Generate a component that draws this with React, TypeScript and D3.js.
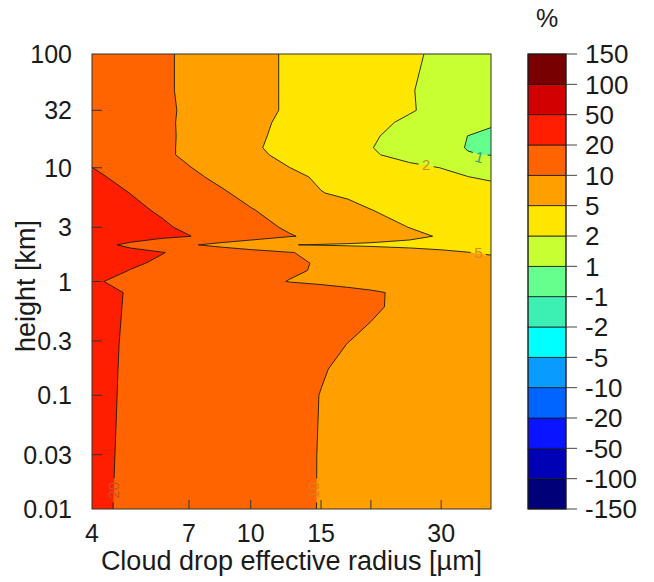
import React from 'react';
import * as d3 from 'd3';

// Cloud drop effective radius [µm] (grid columns)
const radii = [4, 5, 6, 7, 8.5, 10, 12.5, 15, 17.5, 20, 25, 30, 35, 40];
// height [km] (grid rows, bottom to top)
const heights = [0.01, 0.03, 0.1, 0.17, 0.28, 0.6, 0.8, 1, 1.25, 1.45, 1.8, 2.1, 2.5, 3, 4.25, 6, 8.3, 10, 13, 15, 19, 25, 32, 48, 100];
// change [%] for each height row, across radii
const values: number[][] = [
  [23.2, 19.1, 17.6, 16.2, 14.6, 13.2, 11.2, 9.9, 9.4, 9.0, 8.4, 7.9, 7.4, 7.0],
  [23.5, 19.2, 17.6, 16.3, 14.6, 13.2, 11.3, 9.9, 9.4, 9.0, 8.4, 7.9, 7.4, 7.0],
  [23.9, 19.3, 17.8, 16.4, 14.8, 13.4, 11.4, 9.95, 9.5, 9.1, 8.4, 7.9, 7.4, 7.0],
  [23.7, 19.4, 17.9, 16.6, 15.0, 13.7, 11.8, 10.3, 9.6, 9.2, 8.5, 7.9, 7.4, 7.0],
  [23.5, 19.5, 18.1, 16.9, 15.4, 14.2, 12.5, 11.1, 9.97, 9.5, 8.7, 8.0, 7.5, 7.0],
  [23.1, 19.7, 18.5, 17.5, 16.2, 15.2, 13.7, 12.5, 11.5, 10.65, 9.4, 8.45, 7.7, 7.0],
  [23.7, 19.7, 18.5, 17.5, 16.3, 15.2, 13.8, 12.6, 11.6, 10.7, 9.4, 8.5, 7.7, 7.0],
  [22, 18.5, 16.75, 15.3, 13.4, 11.9, 9.9, 9.5, 9.1, 8.75, 8.2, 7.7, 7.35, 7.0],
  [29, 19.8, 18.0, 16.5, 14.6, 13.0, 10.8, 9.7, 9.3, 8.9, 8.3, 7.8, 7.4, 7.0],
  [32, 23, 18.9, 17.2, 15.2, 13.4, 11.1, 9.7, 9.2, 8.8, 8.05, 7.45, 6.95, 6.5],
  [33.5, 26.5, 20.7, 18.2, 15.6, 13.3, 10.3, 9.2, 8.5, 7.8, 6.7, 5.8, 5.07, 4.7],
  [29, 18.4, 14.4, 11.0, 8.7, 7.3, 5.1, 4.85, 4.7, 4.55, 4.3, 4.1, 3.95, 3.8],
  [38, 31, 25.4, 20.6, 17.0, 14.3, 10.5, 9.06, 8.1, 7.25, 5.9, 4.8, 4.3, 3.8],
  [35, 28.2, 22.6, 18.8, 15.5, 12.6, 9.5, 8.3, 7.3, 6.4, 4.96, 4.4, 3.9, 3.5],
  [30.5, 24.0, 19.2, 16.5, 13.2, 10.4, 8.5, 7.2, 6.05, 5.05, 4.4, 3.95, 3.55, 3.2],
  [27.5, 19.9, 16.8, 14.1, 10.75, 8.9, 6.8, 5.1, 4.65, 4.3, 3.8, 3.3, 2.9, 2.6],
  [24.5, 17.6, 14.4, 11.6, 9.1, 7.7, 5.8, 4.7, 4.2, 3.8, 3.1, 2.5, 2.02, 1.93],
  [20.3, 16.2, 13.0, 10.3, 8.45, 7.0, 5.03, 4.4, 3.85, 3.4, 2.6, 1.99, 1.87, 1.75],
  [18, 14.4, 11.4, 9.3, 7.5, 5.9, 4.4, 3.6, 2.9, 2.3, 1.7, 1.33, 1.03, 0.95],
  [17.5, 14.1, 11.4, 9.3, 7.3, 5.6, 4.2, 3.4, 2.7, 2.09, 1.56, 1.17, 0.95, 0.85],
  [17, 13.9, 11.3, 9.4, 7.4, 5.8, 4.35, 3.55, 2.9, 2.3, 1.68, 1.31, 0.99, 0.9],
  [16.5, 13.6, 11.2, 9.4, 7.5, 6.0, 4.5, 3.8, 3.15, 2.6, 1.87, 1.53, 1.25, 1.03],
  [16, 13.4, 11.2, 9.5, 7.8, 6.3, 4.7, 4.0, 3.5, 3.0, 2.18, 1.78, 1.52, 1.3],
  [16, 13.3, 11.0, 9.4, 7.7, 6.3, 4.7, 4.0, 3.45, 2.95, 2.12, 1.8, 1.58, 1.4],
  [16, 13.3, 11.0, 9.4, 7.7, 6.3, 4.7, 4.1, 3.55, 3.1, 2.3, 1.88, 1.68, 1.5],
];

const levels = [-150, -100, -50, -20, -10, -5, -2, -1, 1, 2, 5, 10, 20, 50, 100, 150];
const bandColors = [
  '#000078', '#0000b4', '#0a14ff', '#0064ff', '#0a9bff', '#00ffff', '#3cf0b4',
  '#64ff8c', '#c8ff32', '#ffe600', '#ffa000', '#ff6400', '#ff1e00', '#d20000', '#780000',
];
const xTickValues = [7, 10, 15, 20, 30];
const xTickLabels = [4, 7, 10, 15, 30];
const yTickValues = [0.03, 0.1, 0.3, 1, 3, 10, 32];
const yTickLabels = [0.01, 0.03, 0.1, 0.3, 1, 3, 10, 32, 100];
const lineLabels = [
  { r: 4.52, h: 0.0146, text: '20', rot: -90, color: '#c8502a' },
  { r: 14.41, h: 0.0146, text: '10', rot: -90, color: '#d8801a' },
  { r: 37.2, h: 1.78, text: '5', rot: 0, color: '#d8862a' },
  { r: 27.5, h: 10.56, text: '2', rot: 0, color: '#c8921e' },
  { r: 37.4, h: 12.4, text: '1', rot: 15, color: '#3c9c78' },
];

const W = 654;
const H = 582;
const PL = 92, PR = 491, PT = 54, PB = 509;
const FONT = '"Liberation Sans", Arial, Helvetica, sans-serif';
const FS = 25;
const FS_TITLE = 27;
const FS_CB = 26;

export default function App() {
  const x = d3.scaleLog().domain([4, 40]).range([PL, PR]);
  const y = d3.scaleLog().domain([0.01, 100]).range([PB, PT]);
  const nx = radii.length;
  const ny = heights.length;
  const toIdx = d3.scaleLinear().domain(levels).range(levels.map((_, i) => i));
  const grid = values.flatMap((row) => row.map((v) => toIdx(v)));
  const contours = d3.contours().size([nx, ny]).thresholds(d3.range(0, 15))(grid);
  const gx = d3.scaleLinear().domain(radii.map((_, i) => i + 0.5)).range(radii.map((r) => x(r)));
  const gy = d3.scaleLinear().domain(heights.map((_, i) => i + 0.5)).range(heights.map((h) => y(h)));
  const path = d3.geoPath(
    d3.geoTransform({
      point(px: number, py: number) {
        // @ts-ignore
        this.stream.point(gx(px), gy(py));
      },
    })
  );

  const cb = d3.scaleLinear().domain([0, 15]).range([PB, PT]);
  const CBL = 528, CBR = 566;

  return (
    <svg width={W} height={H} style={{ position: 'absolute', left: 0, top: 0, background: '#fff' }} fontFamily={FONT}>
      <defs>
        <clipPath id="plotclip">
          <rect x={PL} y={PT} width={PR - PL} height={PB - PT} />
        </clipPath>
        <mask id="lblmask" maskUnits="userSpaceOnUse" x={0} y={0} width={W} height={H}>
          <rect x={0} y={0} width={W} height={H} fill="#fff" />
          {lineLabels.map((l, i) => {
            const w = l.text.length * 9 + 6;
            return (
              <rect key={i} x={-w / 2} y={-8} width={w} height={16} fill="#000"
                transform={`translate(${x(l.r)},${y(l.h)}) rotate(${l.rot})`} />
            );
          })}
        </mask>
      </defs>
      <g clipPath="url(#plotclip)">
        {contours.map((c, i) => (
          <path key={'f' + i} d={path(c as any) || ''} fill={bandColors[i]} stroke="none" />
        ))}
        <g mask="url(#lblmask)">
          {contours.map((c, i) =>
            i === 0 ? null : (
              <path key={'s' + i} d={path(c as any) || ''} fill="none" stroke="#1a1a1a" strokeWidth={0.9} strokeLinejoin="round" />
            )
          )}
        </g>
        {lineLabels.map((l, i) => (
          <text key={'l' + i} transform={`translate(${x(l.r)},${y(l.h)}) rotate(${l.rot})`}
            textAnchor="middle" dy="0.36em" fontSize={15} fill={l.color}>
            {l.text}
          </text>
        ))}
      </g>
      {/* frame */}
      <rect x={PL} y={PT} width={PR - PL} height={PB - PT} fill="none" stroke="#333" strokeWidth={1} />
      {/* x ticks */}
      {xTickValues.map((v) => (
        <line key={'xt' + v} x1={x(v)} x2={x(v)} y1={PB} y2={PB - 9} stroke="#333" strokeWidth={1} />
      ))}
      {xTickLabels.map((v) => (
        <text key={'xl' + v} x={x(v)} y={542} textAnchor="middle" fontSize={FS} fill="#1a1a1a">{v}</text>
      ))}
      {/* y ticks */}
      {yTickValues.map((v) => (
        <line key={'yt' + v} x1={PL} x2={PL + 10} y1={y(v)} y2={y(v)} stroke="#333" strokeWidth={1} />
      ))}
      {yTickLabels.map((v) => (
        <text key={'yl' + v} x={72} y={y(v)} dy="0.36em" textAnchor="end" fontSize={FS} fill="#1a1a1a">{v}</text>
      ))}
      <text x={(PL + PR) / 2} y={570} textAnchor="middle" fontSize={FS_TITLE} fill="#1a1a1a">
        Cloud drop effective radius [µm]
      </text>
      <text transform={`translate(35,286) rotate(-90)`} textAnchor="middle" fontSize={FS_TITLE} fill="#1a1a1a">
        height [km]
      </text>
      {/* colorbar */}
      {bandColors.map((c, i) => (
        <rect key={'cb' + i} x={CBL} y={cb(i + 1)} width={CBR - CBL} height={cb(i) - cb(i + 1)} fill={c} stroke="#1a1a1a" strokeWidth={0.8} />
      ))}
      <rect x={CBL} y={PT} width={CBR - CBL} height={PB - PT} fill="none" stroke="#1a1a1a" strokeWidth={1} />
      {levels.map((v, i) => (
        <g key={'cl' + i}>
          <line x1={CBR} x2={CBR + 11} y1={cb(i)} y2={cb(i)} stroke="#444" strokeWidth={1} />
          <text x={585} y={cb(i)} dy="0.36em" fontSize={FS_CB} fill="#1a1a1a">{v}</text>
        </g>
      ))}
      <text x={547} y={27} textAnchor="middle" fontSize={FS} fill="#1a1a1a">%</text>
    </svg>
  );
}
